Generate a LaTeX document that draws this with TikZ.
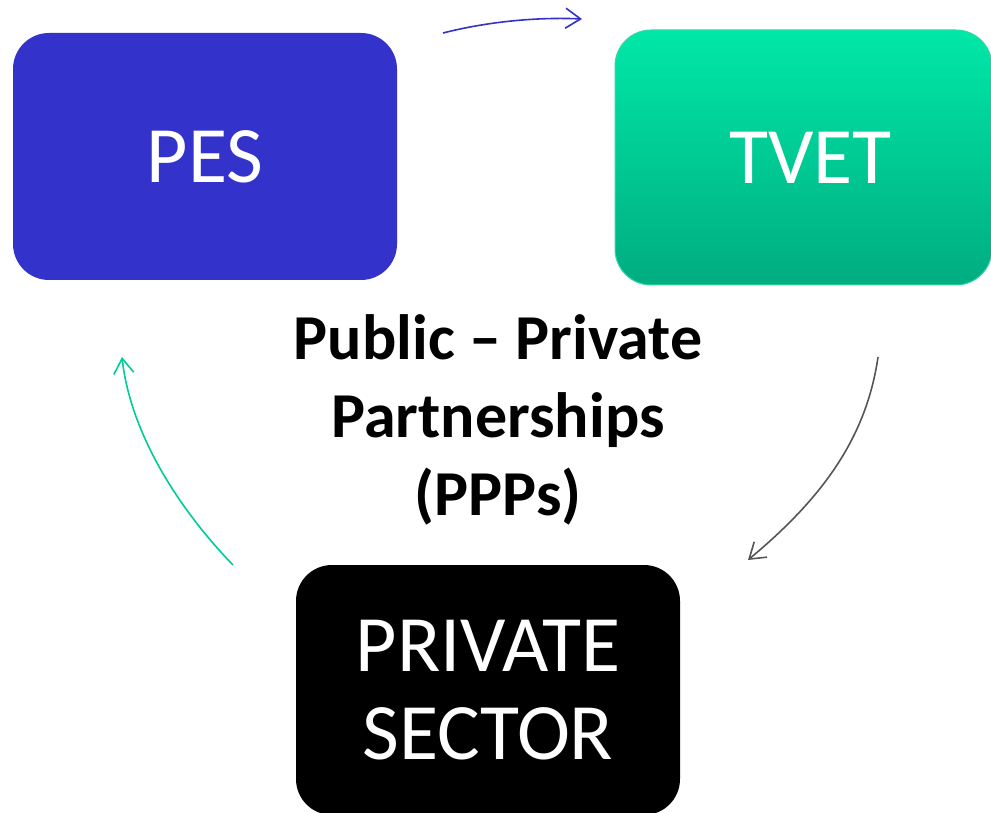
\documentclass[tikz,border=0pt]{standalone}
\usepackage{fontspec}
\setmainfont{Carlito}
\usetikzlibrary{arrows.meta}
\definecolor{pesblue}{HTML}{3333CC}
\definecolor{tvettop}{HTML}{00E8A8}
\definecolor{tvetbot}{HTML}{00AD80}
\definecolor{tvetedge}{HTML}{33D9A8}
\definecolor{arrgreen}{HTML}{00CC99}
\definecolor{arrgray}{HTML}{555555}
\tikzset{
  box/.style={rounded corners=36pt, inner sep=0pt, text=white,
    font=\fontsize{80}{88}\selectfont, align=center},
  flow/.style={line width=1.6pt, -{Straight Barb[length=15pt,width=20pt,line width=1.6pt]}},
}
\begin{document}
\begin{tikzpicture}[x=1pt,y=-1pt]
\useasboundingbox (0,0) rectangle (991,813);
\node[box, fill=pesblue, minimum width=384pt, minimum height=247pt] (pes) at (205,156.5) {PES};
\node[box, top color=tvettop, bottom color=tvetbot, draw=tvetedge, line width=1pt,
      minimum width=377pt, minimum height=255pt] (tvet) at (803.5,157.5) {\hspace*{14pt}TVET};
\node[box, fill=black, minimum width=384pt, minimum height=250pt] (priv) at (488,690)
      {PRIVATE\\SECTOR};
\node[font=\bfseries\fontsize{64}{78}\selectfont, align=center] (ppp) at (498,420)
      {Public -- Private\\Partnerships\\(PPPs)};
\coordinate (b1) at (443,33); \coordinate (b2) at (582,19);
\coordinate (g1) at (878,357); \coordinate (g2) at (748,560);
\coordinate (c1) at (233,565); \coordinate (c2) at (122,357);
\draw[flow, pesblue] (b1) .. controls (490,21) and (540,17) .. (b2);
\draw[flow, arrgray] (g1) .. controls (866,440) and (820,500) .. (g2);
\draw[flow, arrgreen] (c1) .. controls (175,505) and (130,430) .. (c2);
\end{tikzpicture}
\end{document}
